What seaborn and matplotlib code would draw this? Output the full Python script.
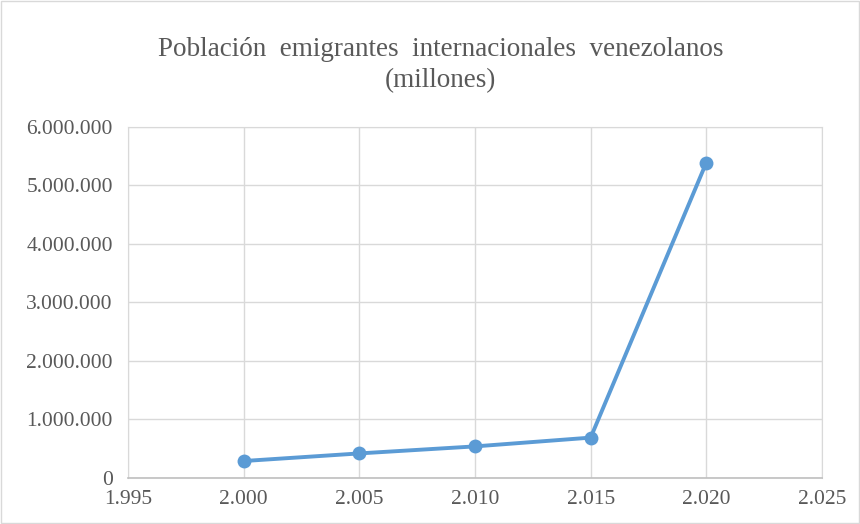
import matplotlib
matplotlib.use("Agg")
import matplotlib.pyplot as plt
from matplotlib.ticker import FuncFormatter, MultipleLocator
import seaborn as sns
import pandas as pd

years = [2000, 2005, 2010, 2015, 2020]
emigrants = [290000, 420000, 540000, 690000, 5390000]

df = pd.DataFrame({"year": years, "emigrants": emigrants})

sns.set_style("whitegrid")
plt.rcParams['font.family'] = ['Liberation Serif', 'DejaVu Serif']

fig = plt.figure(figsize=(8.6, 5.24), dpi=100)
ax = fig.add_axes([0.1488, 0.0878, 0.807, 0.670])

sns.lineplot(data=df, x="year", y="emigrants", ax=ax, color="#5B9BD5",
             linewidth=2.8, marker="o", markersize=10, markeredgewidth=0)

def dots(v, pos):
    return f"{int(round(v)):,}".replace(",", ".")

ax.set_xlim(1995, 2025)
ax.set_ylim(0, 6000000)
ax.xaxis.set_major_locator(MultipleLocator(5))
ax.yaxis.set_major_locator(MultipleLocator(1000000))
ax.xaxis.set_major_formatter(FuncFormatter(dots))
ax.yaxis.set_major_formatter(FuncFormatter(dots))
ax.set_xlabel("")
ax.set_ylabel("")
ax.grid(True, color="#d9d9d9", linewidth=1)
for s in ["top", "right", "left"]:
    ax.spines[s].set_color("#d9d9d9")
ax.spines["bottom"].set_color("#bfbfbf")
ax.spines["bottom"].set_linewidth(1.2)
ax.tick_params(colors="#595959", labelsize=15.5, length=0)
ax.tick_params(axis="y", pad=11)
ax.tick_params(axis="x", pad=9)

fig.text(0.512, 0.876, "Población  emigrantes  internacionales  venezolanos\n(millones)",
         ha="center", va="center", fontsize=19.5, color="#595959", linespacing=1.35)

fig.patches.append(plt.Rectangle((0.001, 0.001), 0.998, 0.998, transform=fig.transFigure,
                                 fill=False, edgecolor="#d9d9d9", linewidth=1))

fig.savefig("out.png", dpi=100)
